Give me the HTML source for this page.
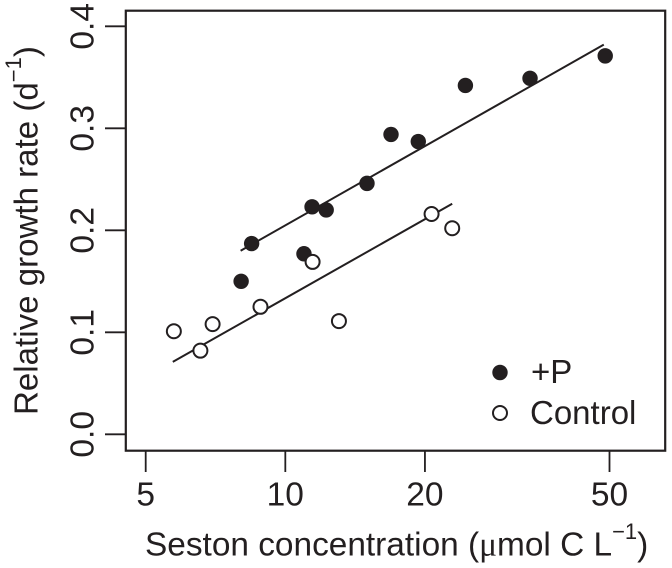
<!DOCTYPE html>
<html>
<head>
<meta charset="utf-8">
<style>
html,body{margin:0;padding:0;background:#fff}
svg{display:block}
text{font-family:"Liberation Sans",sans-serif;fill:#231f20}
</style>
</head>
<body>
<svg id="chart" width="672" height="568" viewBox="0 0 672 568" xmlns="http://www.w3.org/2000/svg">
<rect x="125.8" y="10.7" width="539.4" height="440" fill="none" stroke="#231f20" stroke-width="2.2"/>
<g id="axes"></g>
<g id="marks"></g>
<text x="145" y="555.5" font-size="33.4">Seston concentration (<tspan font-family="Liberation Serif, serif">μ</tspan>mol C L<tspan font-size="22" dy="-16.5">−1</tspan><tspan dy="16.5">)</tspan></text>
<text transform="translate(37.5,415) rotate(-90)" font-size="33.1">Relative growth rate (d<tspan font-size="22" dy="-16.5">−1</tspan><tspan dy="16.5">)</tspan></text>
<circle cx="500" cy="372.5" r="7.7" fill="#231f20"/>
<text x="531" y="383" font-size="33">+P</text>
<circle cx="500" cy="413" r="7" fill="#fff" stroke="#231f20" stroke-width="2"/>
<text x="530" y="424" font-size="33">Control</text>
</svg>
<script>
var xTicks = [5, 10, 20, 50];
var yTicks = [0.0, 0.1, 0.2, 0.3, 0.4];
var plusPX = [8.03, 8.46, 10.97, 11.42, 12.25, 15.0, 16.9, 19.35, 24.45, 33.7, 48.95];
var plusPY = [0.150, 0.187, 0.177, 0.223, 0.220, 0.246, 0.294, 0.287, 0.342, 0.349, 0.371];
var controlX = [5.75, 6.56, 6.97, 8.84, 11.45, 13.05, 20.67, 22.9];
var controlY = [0.101, 0.082, 0.108, 0.125, 0.169, 0.111, 0.216, 0.202];
var plusPLineX = [8.01, 48.6];
var plusPLineY = [0.180, 0.382];
var controlLineX = [5.72, 22.9];
var controlLineY = [0.071, 0.226];

var NS = 'http://www.w3.org/2000/svg';
var INK = '#231f20';
function sx(v) { return 145.7 + 463.8 * (Math.log(v / 5) / Math.LN10); }
function sy(v) { return 434.3 - 1020 * v; }
function make(parent, tag, attrs) {
  var el = document.createElementNS(NS, tag);
  for (var k in attrs) el.setAttribute(k, attrs[k]);
  parent.appendChild(el);
  return el;
}
var axes = document.getElementById('axes');
var marks = document.getElementById('marks');

xTicks.forEach(function (t) {
  var tick = make(axes, 'line', { x1: sx(t), x2: sx(t), y1: 451, y2: 472, stroke: INK, 'stroke-width': 1.8 });
  
  
  var label = make(axes, 'text', { x: sx(t), y: 505.5, 'font-size': 33.5, 'text-anchor': 'middle' });
  
  
  label.textContent = String(t);
});
yTicks.forEach(function (t) {
  var tick = make(axes, 'line', { x1: 105, x2: 126, y1: sy(t), y2: sy(t), stroke: INK, 'stroke-width': 1.8 });
  
  
  var label = make(axes, 'text', { transform: 'translate(93.3,' + sy(t) + ') rotate(-90)', 'font-size': 33.5, 'text-anchor': 'middle' });
  
  
  label.textContent = t.toFixed(1);
});

var lineP = make(marks, 'line', { x1: sx(plusPLineX[0]), y1: sy(plusPLineY[0]), x2: sx(plusPLineX[1]), y2: sy(plusPLineY[1]), stroke: INK, 'stroke-width': 2 });


var lineC = make(marks, 'line', { x1: sx(controlLineX[0]), y1: sy(controlLineY[0]), x2: sx(controlLineX[1]), y2: sy(controlLineY[1]), stroke: INK, 'stroke-width': 2 });



plusPX.forEach(function (x, i) {
  var dot = make(marks, 'circle', { cx: sx(x), cy: sy(plusPY[i]), r: 7.7, fill: INK });
  
  
});
controlX.forEach(function (x, i) {
  var dot = make(marks, 'circle', { cx: sx(x), cy: sy(controlY[i]), r: 7, fill: '#fff', stroke: INK, 'stroke-width': 2 });
  
  
});
</script>
</body>
</html>
